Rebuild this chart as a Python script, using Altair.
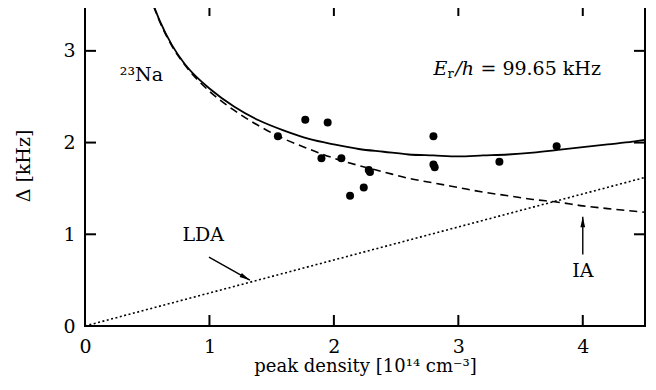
import altair as alt
import pandas as pd

# ---- data ----
pts_x = [1.55, 1.77, 1.95, 1.90, 2.06, 2.13, 2.24, 2.28, 2.29, 2.80, 2.80, 2.81, 3.33, 3.79]
pts_y = [2.07, 2.25, 2.22, 1.83, 1.83, 1.42, 1.51, 1.70, 1.68, 2.07, 1.76, 1.73, 1.79, 1.96]

solid_x = [0.55, 0.6, 0.7, 0.8, 0.9, 1.0, 1.2, 1.4, 1.6, 1.8, 2.0, 2.2, 2.4, 2.6, 2.8, 3.0,
           3.2, 3.4, 3.6, 3.8, 4.0, 4.2, 4.4, 4.5]
solid_y = [3.50, 3.33, 3.06, 2.86, 2.71, 2.59, 2.39, 2.24, 2.13, 2.04, 1.98, 1.93, 1.90, 1.87,
           1.86, 1.85, 1.86, 1.87, 1.89, 1.92, 1.95, 1.98, 2.01, 2.03]

ia_x = [0.55, 0.6, 0.7, 0.8, 0.9, 1.0, 1.2, 1.4, 1.6, 1.8, 2.0, 2.2, 2.4, 2.6, 2.8, 3.0,
        3.2, 3.4, 3.6, 3.8, 4.0, 4.2, 4.5]
ia_y = [3.49, 3.32, 3.05, 2.85, 2.69, 2.56, 2.35, 2.18, 2.04, 1.93, 1.83, 1.75, 1.68, 1.61,
        1.56, 1.51, 1.46, 1.42, 1.38, 1.35, 1.31, 1.28, 1.24]

lda_x = [0.0, 4.5]
lda_y = [0.0, 1.62]

x_ticks = [0, 1, 2, 3, 4]
y_ticks = [0, 1, 2, 3]

arrow_x = [0.996, 4.0]
arrow_y = [0.75, 0.78]
arrow_x2 = [1.325, 4.0]
arrow_y2 = [0.50, 1.19]
arrow_angle = [119, 0]

W, H = 560, 321
FONT = "DejaVu Serif"
FS = 19

xs = alt.Scale(domain=[0, 4.5], nice=False, zero=False)
ys = alt.Scale(domain=[0, 3.5], nice=False, zero=False)
x_axis = alt.Axis(values=x_ticks, title="peak density [10¹⁴ cm⁻³]", tickSize=0, domain=False,
                  grid=False, labelPadding=11, titlePadding=1, format="d", labelFlush=False,
                  labelFont=FONT, labelFontSize=FS, labelColor="black",
                  titleFont=FONT, titleFontSize=FS - 1, titleColor="black", titleFontWeight="normal")
y_axis = alt.Axis(values=y_ticks, title="Δ [kHz]", tickSize=0, domain=False, grid=False,
                  labelPadding=10, titlePadding=29, format="d",
                  labelFont=FONT, labelFontSize=FS, labelColor="black",
                  titleFont=FONT, titleFontSize=FS, titleColor="black", titleFontWeight="normal")


def X(f="x"):
    return alt.X(f"{f}:Q", scale=xs, axis=x_axis)


def Y(f="y"):
    return alt.Y(f"{f}:Q", scale=ys, axis=y_axis)


solid_df = pd.DataFrame({"x": solid_x, "y": solid_y})
ia_df = pd.DataFrame({"x": ia_x, "y": ia_y})
lda_df = pd.DataFrame({"x": lda_x, "y": lda_y})
pts_df = pd.DataFrame({"x": pts_x, "y": pts_y})

solid = alt.Chart(solid_df).mark_line(color="black", strokeWidth=1.8, clip=True,
                                      interpolate="monotone").encode(x=X(), y=Y())
dashed = alt.Chart(ia_df).mark_line(color="black", strokeWidth=1.6, strokeDash=[8, 5], clip=True,
                                    interpolate="monotone").encode(x=X(), y=Y())
dotted = alt.Chart(lda_df).mark_line(color="black", strokeWidth=1.6, strokeDash=[2, 2.5],
                                     clip=True).encode(x=X(), y=Y())
points = alt.Chart(pts_df).mark_circle(color="black", size=64, opacity=1).encode(x=X(), y=Y())

xt_df = pd.DataFrame({"x": x_ticks[1:]})
yt_df = pd.DataFrame({"y": y_ticks[1:]})
tick_bottom = alt.Chart(xt_df).mark_rule(color="black", strokeWidth=2).encode(
    x=X(), y=alt.value(H), y2=alt.value(H - 11))
tick_top = alt.Chart(xt_df).mark_rule(color="black", strokeWidth=2).encode(
    x=X(), y=alt.value(0), y2=alt.value(11))
tick_left = alt.Chart(yt_df).mark_rule(color="black", strokeWidth=2).encode(
    y=Y(), x=alt.value(0), x2=alt.value(11))
tick_right = alt.Chart(yt_df).mark_rule(color="black", strokeWidth=2).encode(
    y=Y(), x=alt.value(W), x2=alt.value(W - 11))

arr_df = pd.DataFrame({"x": arrow_x, "y": arrow_y, "x2": arrow_x2, "y2": arrow_y2,
                       "angle": arrow_angle})
arrow_lines = alt.Chart(arr_df).mark_rule(color="black", strokeWidth=1.4).encode(
    x=X(), y=Y(), x2="x2:Q", y2="y2:Q")
arrow_heads = alt.Chart(arr_df).mark_point(
    shape="M0,0L0.45,2L-0.45,2Z", filled=True, color="black", size=110, opacity=1
).encode(x=X("x2"), y=Y("y2"), angle=alt.Angle("angle:Q", scale=None))

# annotation texts
labels_df = pd.DataFrame({"x": [0.95, 4.0], "y": [0.99, 0.60], "t": ["LDA", "IA"]})
labels = alt.Chart(labels_df).mark_text(font=FONT, fontSize=FS, color="black",
                                        align="center", baseline="middle").encode(
    x=X(), y=Y(), text="t:N")

na_df = pd.DataFrame({"x": [0.28], "y": [2.74], "t": ["²³Na"]})
na = alt.Chart(na_df).mark_text(font=FONT, fontSize=FS, color="black", align="left",
                                baseline="middle").encode(x=X(), y=Y(), text="t:N")

er_df = pd.DataFrame({"x": [2.80], "y": [2.80]})
er_E = alt.Chart(er_df).mark_text(text="E", font=FONT, fontSize=FS, fontStyle="italic",
                                  color="black", align="left", baseline="middle").encode(x=X(), y=Y())
er_r = alt.Chart(er_df).mark_text(text="r", font=FONT, fontSize=13, color="black",
                                  align="left", baseline="middle", dx=14, dy=5).encode(x=X(), y=Y())
er_h = alt.Chart(er_df).mark_text(text="/h", font=FONT, fontSize=FS, fontStyle="italic",
                                  color="black", align="left", baseline="middle", dx=22).encode(x=X(), y=Y())
er_rest = alt.Chart(er_df).mark_text(text="=\u00a099.65\u00a0kHz", font=FONT, fontSize=FS,
                                     color="black", align="left", baseline="middle",
                                     dx=47).encode(x=X(), y=Y())

chart = alt.layer(
    dotted, dashed, solid, points,
    tick_bottom, tick_top, tick_left, tick_right,
    arrow_lines, arrow_heads, labels, na, er_E, er_r, er_h, er_rest
).properties(
    width=W, height=H,
    background="white",
    autosize=alt.AutoSizeParams(type="none"),
    padding={"left": 77, "top": -3, "right": 3, "bottom": 56},
).configure_view(
    stroke="black", strokeWidth=2
)

chart.save("out.html", embed_options={"renderer": "svg", "actions": False})
